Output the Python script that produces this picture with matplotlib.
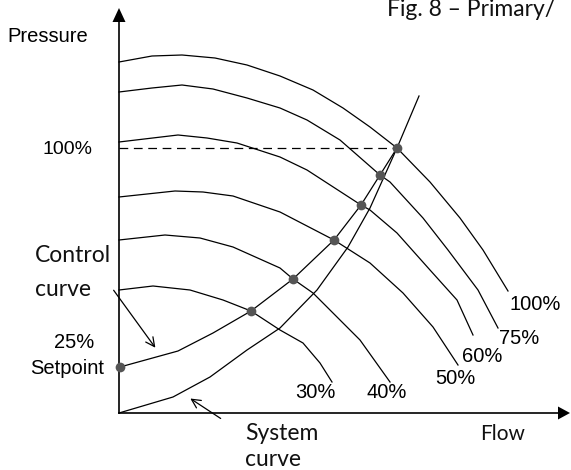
import matplotlib.pyplot as plt

# chart units: flow / pressure measured from the axes corner
pump_100_flow = [0, 33, 63, 96, 128, 161, 194, 224, 251, 278, 311, 341, 364, 389]
pump_100_pres = [351, 357, 358, 355, 348, 337, 323, 305, 286, 265, 231, 195, 163, 122]
pump_75_flow = [0, 33, 63, 94, 128, 161, 188, 221, 261, 271, 304, 329, 359, 379]
pump_75_pres = [321, 325, 328, 324, 315, 305, 293, 273, 238, 231, 195, 163, 123, 85]
pump_60_flow = [0, 59, 88, 118, 161, 188, 242, 251, 278, 311, 338, 354]
pump_60_pres = [271, 278, 275, 270, 256, 243, 208, 203, 180, 143, 113, 78]
pump_50_flow = [0, 56, 84, 114, 161, 215, 251, 284, 314, 339]
pump_50_pres = [216, 222, 221, 217, 201, 173, 150, 120, 86, 48]
pump_40_flow = [0, 46, 81, 114, 161, 174, 194, 241, 271]
pump_40_pres = [173, 178, 175, 166, 145, 134, 120, 73, 31]
pump_30_flow = [0, 34, 71, 104, 132, 161, 184, 201, 213]
pump_30_pres = [123, 127, 123, 113, 102, 83, 70, 50, 31]

pump_labels = ['100%', '75%', '60%', '50%', '40%', '30%']

# control curve: setpoint + operating points
control_flow = [1, 59, 94, 132, 174, 215, 242, 261, 278]
control_pres = [46, 62, 80, 102, 134, 173, 208, 238, 265]
dot_flow = [1, 132, 174, 215, 242, 261, 278]
dot_pres = [46, 102, 134, 173, 208, 238, 265]

system_flow = [0, 54, 91, 128, 161, 198, 229, 251, 278, 300]
system_pres = [0, 16, 36, 63, 85, 123, 166, 205, 265, 317]

fig = plt.figure(figsize=(5.71, 4.70), dpi=100)
ax = fig.add_axes([0, 0, 1, 1])
ax.set_xlim(-119, 452)
ax.set_ylim(-57, 413)
ax.axis('off')

lw = 0.9
curves = [(pump_100_flow, pump_100_pres), (pump_75_flow, pump_75_pres),
          (pump_60_flow, pump_60_pres), (pump_50_flow, pump_50_pres),
          (pump_40_flow, pump_40_pres), (pump_30_flow, pump_30_pres)]
for fl, pr in curves:
    ax.plot(fl, pr, color='black', lw=lw)

ax.plot(system_flow, system_pres, color='black', lw=lw)
ax.plot(control_flow, control_pres, color='black', lw=lw)
ax.plot([0, control_flow[-1]], [control_pres[-1]] * 2, color='black', lw=lw, dashes=(7, 4.5))
ax.plot(dot_flow, dot_pres, 'o', color='#555555', ms=7, mec='none', zorder=5)

# axes with arrow heads
ax.plot([0, 0], [0, 392], color='black', lw=1.2)
ax.plot([0, 441], [0, 0], color='black', lw=1.2)
ax.fill([-6.5, 6.5, 0], [391, 391, 405], color='black', lw=0)
ax.fill([439, 439, 451], [-6.5, 6.5, 0], color='black', lw=0)

reg = dict(family='Liberation Sans', fontsize=14.5, color='black')
light = dict(family='Lato', fontsize=16.5, color='#111111')

# labels at the end of each pump curve
label_pos = [(416, 108), (400, 75), (363, 57), (336, 35), (268, 20), (196, 20)]
for txt, (x, y) in zip(pump_labels, label_pos):
    ax.text(x, y, txt, ha='center', va='center', **reg)

ax.text(-112, 377, 'Pressure', ha='left', va='center', **reg)
ax.text(-27, 263, '100%', ha='right', va='center', **dict(reg, fontsize=14))
ax.text(-45, 70, '25%', ha='center', va='center', **reg)
ax.text(-52, 45, 'Setpoint', ha='center', va='center', **reg)
ax.text(361, -21, 'Flow', ha='left', va='center', **dict(light, fontsize=15))

ax.text(-84, 158, 'Control', ha='left', va='center', **light)
ax.text(-84, 124, 'curve', ha='left', va='center', **light)
ax.text(126, -20, 'System', ha='left', va='center', **light)
ax.text(126, -46, 'curve', ha='left', va='center', **light)

ax.annotate('', xy=(38, 63), xytext=(-7, 125),
            arrowprops=dict(arrowstyle='->', color='black', lw=lw, mutation_scale=16))
ax.annotate('', xy=(69, 16), xytext=(104, -7),
            arrowprops=dict(arrowstyle='->', color='black', lw=lw, mutation_scale=16))

ax.text(268, 397, 'Fig. 8 \u2013 Primary/', ha='left', va='baseline', **light)

fig.savefig('out.png', dpi=100)
